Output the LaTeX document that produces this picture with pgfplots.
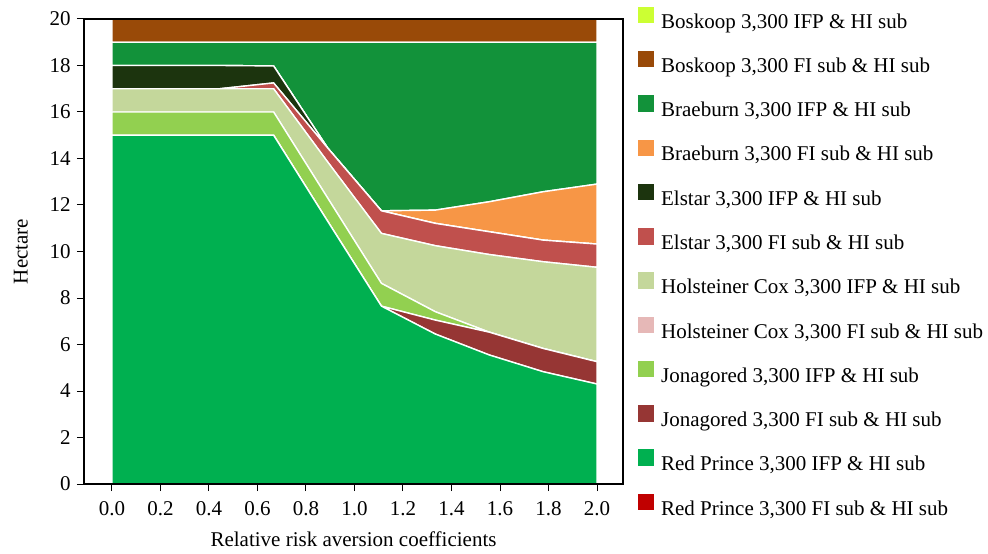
\documentclass[border=0pt]{standalone}
\usepackage{fontspec}
\setmainfont{Liberation Serif}
\usepackage{pgfplots}
\usepackage{pgfplotstable}
\pgfplotsset{compat=1.18}
\definecolor{boI}{RGB}{204,255,51}
\definecolor{boF}{RGB}{153,74,8}
\definecolor{brI}{RGB}{18,146,58}
\definecolor{brF}{RGB}{247,150,70}
\definecolor{elI}{RGB}{28,52,14}
\definecolor{elF}{RGB}{192,80,77}
\definecolor{hoI}{RGB}{196,215,155}
\definecolor{hoF}{RGB}{230,184,183}
\definecolor{joI}{RGB}{146,208,80}
\definecolor{joF}{RGB}{150,54,52}
\definecolor{rpI}{RGB}{0,176,80}
\definecolor{rpF}{RGB}{192,0,0}
\pgfplotstableread{
x      rpF rpI   joF  joI  hoF hoI  elF  elI  brF  brI  boF boI
0      0   15    0    1    0   1    0    1    0    1    1   0
0.2222 0   15    0    1    0   1    0    1    0    1    1   0
0.4444 0   15    0    1    0   1    0    1    0    1    1   0
0.6667 0   15    0    1    0   1    0.25 0.73 0    1.02 1   0
0.8889 0   11.31 0    1.0  0   1.55 0.6  0    0    4.54 1   0
1.1111 0   7.65  0    0.98 0   2.15 0.97 0    0    7.25 1   0
1.3333 0   6.45  0.6  0.36 0   2.84 0.96 0    0.57 7.22 1   0
1.5556 0   5.55  0.98 0    0   3.34 0.98 0    1.29 6.86 1   0
1.7778 0   4.83  1.0  0    0   3.73 0.93 0    2.08 6.43 1   0
2.0    0   4.30  0.96 0    0   4.06 1.0  0    2.58 6.1  1   0
}\data
\begin{document}
\fontsize{10.5bp}{12.6bp}\selectfont
\begin{tikzpicture}
\begin{axis}[name=ax,
  scale only axis, width=269.5bp, height=232.5bp,
  xmin=-0.115, xmax=2.107, ymin=0, ymax=20,
  stack plots=y,
  axis on top,
  xtick={0,0.2,0.4,0.6,0.8,1.0,1.2,1.4,1.6,1.8,2.0},
  xticklabels={0.0,0.2,0.4,0.6,0.8,1.0,1.2,1.4,1.6,1.8,2.0},
  ytick={0,2,4,6,8,10,12,14,16,18,20},
  tick pos=left, tick align=outside, major tick length=3.5bp,
  /pgf/number format/assume math mode=true,
  tick label style={font=\fontsize{10.5bp}{12.6bp}\selectfont},
  yticklabel style={xshift=0.5bp},
  xticklabel style={yshift=-1.5bp},
  axis line style={line width=0.6bp},
  every tick/.style={black, line width=0.5bp},
  xlabel={Relative risk aversion coefficients},
  ylabel={Hectare},
  label style={font=\fontsize{10.5bp}{12.6bp}\selectfont},
  xlabel style={at={(axis description cs:0.5,-0.086)}, anchor=north},
  ylabel style={at={(axis description cs:-0.117,0.5)}, anchor=center},
  every axis plot/.append style={draw=white, line width=0.7bp},
  legend image code/.code={\path[#1,draw=none] (0bp,0bp) rectangle (8.2bp,8.2bp);},
  reverse legend,
  legend style={draw=none, fill=none, at={(1,1)}, anchor=north west,
    xshift=7.15bp, yshift=6.3bp, inner sep=0pt, row sep=7.93bp, column sep=2.5bp,
    font=\fontsize{10.5bp}{12.6bp}\selectfont,
    nodes={inner sep=1bp, text height=7.5bp, text depth=2.5bp, anchor=west}},
  legend cell align=left,
]
\addplot[fill=rpF, draw=none] table[x=x,y=rpF]{\data} \closedcycle;
\addlegendentry{Red Prince 3,300 FI sub \& HI sub}
\addplot[fill=rpI] table[x=x,y=rpI]{\data} \closedcycle;
\addlegendentry{Red Prince 3,300 IFP \& HI sub}
\addplot[fill=joF] table[x=x,y=joF]{\data} \closedcycle;
\addlegendentry{Jonagored 3,300 FI sub \& HI sub}
\addplot[fill=joI] table[x=x,y=joI]{\data} \closedcycle;
\addlegendentry{Jonagored 3,300 IFP \& HI sub}
\addplot[fill=hoF, draw=none] table[x=x,y=hoF]{\data} \closedcycle;
\addlegendentry{Holsteiner Cox 3,300 FI sub \& HI sub}
\addplot[fill=hoI] table[x=x,y=hoI]{\data} \closedcycle;
\addlegendentry{Holsteiner Cox 3,300 IFP \& HI sub}
\addplot[fill=elF] table[x=x,y=elF]{\data} \closedcycle;
\addlegendentry{Elstar 3,300 FI sub \& HI sub}
\addplot[fill=elI] table[x=x,y=elI]{\data} \closedcycle;
\addlegendentry{Elstar 3,300 IFP \& HI sub}
\addplot[fill=brF] table[x=x,y=brF]{\data} \closedcycle;
\addlegendentry{Braeburn 3,300 FI sub \& HI sub}
\addplot[fill=brI] table[x=x,y=brI]{\data} \closedcycle;
\addlegendentry{Braeburn 3,300 IFP \& HI sub}
\addplot[fill=boF] table[x=x,y=boF]{\data} \closedcycle;
\addlegendentry{Boskoop 3,300 FI sub \& HI sub}
\addplot[fill=boI, draw=none] table[x=x,y=boI]{\data} \closedcycle;
\addlegendentry{Boskoop 3,300 IFP \& HI sub}
\end{axis}
\path ([xshift=-42bp,yshift=-33bp]ax.south west) rectangle ([xshift=182.5bp,yshift=9.5bp]ax.north east);
\end{tikzpicture}
\end{document}
